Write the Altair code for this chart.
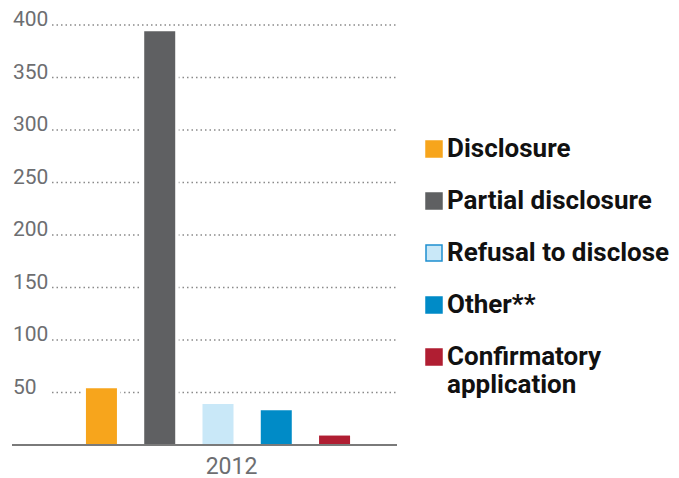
import altair as alt
import pandas as pd

categories = ["Disclosure", "Partial disclosure", "Refusal to disclose", "Other**", "Confirmatory application"]
values = [54, 394, 39, 33, 9]
fills = ["#f7a51c", "#5f6062", "#c9e8f8", "#008bc7", "#b01e32"]
strokes = ["#f7a51c", "#5f6062", "#1e8fd0", "#008bc7", "#b01e32"]
ticks = [50, 100, 150, 200, 250, 300, 350, 400]
year = "2012"

df = pd.DataFrame({"category": categories, "value": values})
tick_df = pd.DataFrame({"tick": ticks})

W, H = 385, 420

xscale = alt.Scale(domain=categories, range=[74, 338], paddingInner=0.47, paddingOuter=0)
yscale = alt.Scale(domain=[0, 400], nice=False)

xaxis = alt.Axis(title=year, labels=False, ticks=False, domain=False, grid=False,
                 titleFontSize=23, titleFont="Roboto", titleColor="#6d6e71",
                 titleFontWeight="normal", titleX=219, titleY=21, titleBaseline="middle")

grid = alt.Chart(tick_df).mark_rule(color="#8a8a8a", strokeWidth=1.5, strokeDash=[1.5, 3]).encode(
    y=alt.Y("tick:Q", scale=yscale, axis=None),
    x=alt.value(40), x2=alt.value(W),
)

labels = alt.Chart(tick_df).mark_text(
    align="left", baseline="alphabetic", dy=1, fontSize=21, font="Roboto", color="#6d6e71"
).encode(
    y=alt.Y("tick:Q", scale=yscale, axis=None),
    x=alt.value(1),
    text=alt.Text("tick:Q"),
)

white = alt.Chart(df).mark_bar(color="white", size=38).encode(
    x=alt.X("category:N", scale=xscale, axis=xaxis, sort=categories),
    y=alt.Y("value:Q", scale=yscale, axis=None),
)

bars = alt.Chart(df).mark_bar(size=31, strokeWidth=0).encode(
    x=alt.X("category:N", scale=xscale, sort=categories, axis=xaxis),
    y=alt.Y("value:Q", scale=yscale, axis=None),
    color=alt.Color("category:N", sort=categories,
                    scale=alt.Scale(domain=categories, range=fills),
                    legend=alt.Legend(
                        title=None, orient="none", legendX=409, legendY=111,
                        symbolType="square", symbolSize=256, symbolStrokeWidth=1.5,
                        labelFontSize=26, labelFont="Roboto", labelFontWeight="bold",
                        labelColor="#111111", labelOffset=0, rowPadding=26, labelLimit=300,
                        labelExpr="datum.label == 'Confirmatory application' ? ['Confirmatory', 'application'] : datum.label",
                    )),
    stroke=alt.Stroke("category:N", sort=categories,
                      scale=alt.Scale(domain=categories, range=strokes), legend=None),
)

zero = alt.Chart(df).mark_rule(color="#7a7a7a", strokeWidth=2).encode(
    y=alt.value(H),
    x=alt.value(0), x2=alt.value(W),
)

chart = alt.layer(grid, labels, white, bars, zero).properties(
    width=W, height=H,
    autosize=alt.AutoSizeParams(type="none"),
    padding={"left": 4, "top": 17, "right": 274, "bottom": 36},
).configure_view(stroke=None)

chart.save("out.html", embed_options={"renderer": "svg", "actions": False})
